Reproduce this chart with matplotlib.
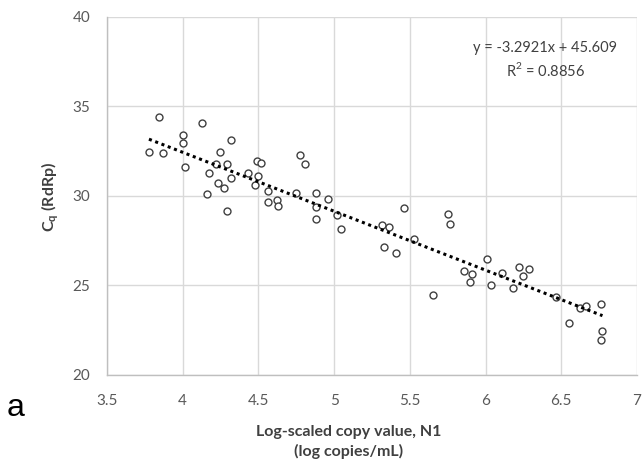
import matplotlib
matplotlib.use("Agg")
import matplotlib.pyplot as plt
import numpy as np

# log copies/mL (N1) and Cq (RdRp)
log_n1 = [3.777, 3.846, 3.868, 4.005, 4.005, 4.016, 4.125, 4.162, 4.173, 4.221,
          4.230, 4.243, 4.273, 4.293, 4.293, 4.317, 4.320, 4.430, 4.478, 4.489,
          4.500, 4.515, 4.565, 4.561, 4.620, 4.626, 4.750, 4.772, 4.809, 4.877,
          4.877, 4.877, 4.962, 5.018, 5.045, 5.317, 5.362, 5.328, 5.410, 5.459,
          5.530, 5.654, 5.753, 5.764, 5.858, 5.910, 5.900, 6.009, 6.038, 6.108,
          6.178, 6.220, 6.245, 6.286, 6.465, 6.554, 6.624, 6.663, 6.761, 6.772,
          6.761]
cq_rdrp = [32.46, 34.43, 32.38, 33.41, 32.98, 31.60, 34.06, 30.09, 31.27, 31.77,
           30.71, 32.48, 30.43, 31.79, 29.18, 31.02, 33.13, 31.28, 30.61, 31.96,
           31.13, 31.86, 30.28, 29.66, 29.78, 29.42, 30.18, 32.29, 31.77, 30.18,
           29.36, 28.74, 29.85, 28.94, 28.17, 28.36, 28.27, 27.15, 26.84, 29.35,
           27.59, 24.47, 29.02, 28.41, 25.83, 25.64, 25.22, 26.49, 25.04, 25.71,
           24.88, 26.05, 25.55, 25.90, 24.37, 22.89, 23.72, 23.85, 23.97, 22.46,
           21.96]

# linear trendline as reported on the chart
slope = -3.2921
intercept = 45.609
r_squared = 0.8856

x_ticks = [3.5, 4, 4.5, 5, 5.5, 6, 6.5, 7]
x_ticklabels = ["3.5", "4", "4.5", "5", "5.5", "6", "6.5", "7"]
y_ticks = [20, 25, 30, 35, 40]

W, H = 644, 471
plt.rcParams["font.family"] = ["Lato", "DejaVu Sans"]

fig = plt.figure(figsize=(W / 100, H / 100), dpi=100)
ax = fig.add_axes([107 / W, 1 - 375 / H, 530 / W, 358 / H])

grid_col = "#d9d9d9"
ax.set_xlim(3.5, 7)
ax.set_ylim(20, 40)
ax.set_xticks(x_ticks)
ax.set_xticklabels(x_ticklabels)
ax.set_yticks(y_ticks)
ax.grid(True, color=grid_col, linewidth=1.0)
ax.set_axisbelow(True)
for side in ["top", "right"]:
    ax.spines[side].set_visible(False)
for side in ["left", "bottom"]:
    ax.spines[side].set_color("#bfbfbf")
    ax.spines[side].set_linewidth(1.0)
ax.tick_params(length=0, labelsize=11, colors="#595959")
ax.tick_params(axis="x", pad=14)
ax.tick_params(axis="y", pad=12)

ax.plot(log_n1, cq_rdrp, linestyle="none", marker="o", markersize=5,
        markerfacecolor="white", markeredgecolor="#404040", markeredgewidth=1.0,
        zorder=3)

xs = np.array([min(log_n1), max(log_n1)])
ax.plot(xs, slope * xs + intercept, linestyle=(0, (1, 1.2)), color="black",
        linewidth=2.2, zorder=4)

txt_col = "#404040"
fig.text(545 / W, 1 - 48 / H, f"y = {slope}x + {intercept}",
         ha="center", va="center", fontsize=10.5, color=txt_col)
fig.text(545 / W, 1 - 70 / H, f"R$^\\mathregular{{2}}$ = {r_squared}",
         ha="center", va="center", fontsize=10.5, color=txt_col)

fig.text(50 / W, 1 - 197 / H, r"C$_\mathregular{q}$ (RdRp)", rotation=90,
         ha="center", va="center", fontsize=11.5, fontweight="bold", color=txt_col)
fig.text(349 / W, 1 - 432 / H, "Log-scaled copy value, N1",
         ha="center", va="center", fontsize=11.5, fontweight="bold", color=txt_col)
fig.text(349 / W, 1 - 451 / H, "(log copies/mL)",
         ha="center", va="center", fontsize=11.5, fontweight="bold", color=txt_col)
fig.text(16 / W, 1 - 408 / H, "a", ha="center", va="center",
         fontsize=23, color="black", family="Liberation Sans")

fig.savefig("out.png", dpi=100)
